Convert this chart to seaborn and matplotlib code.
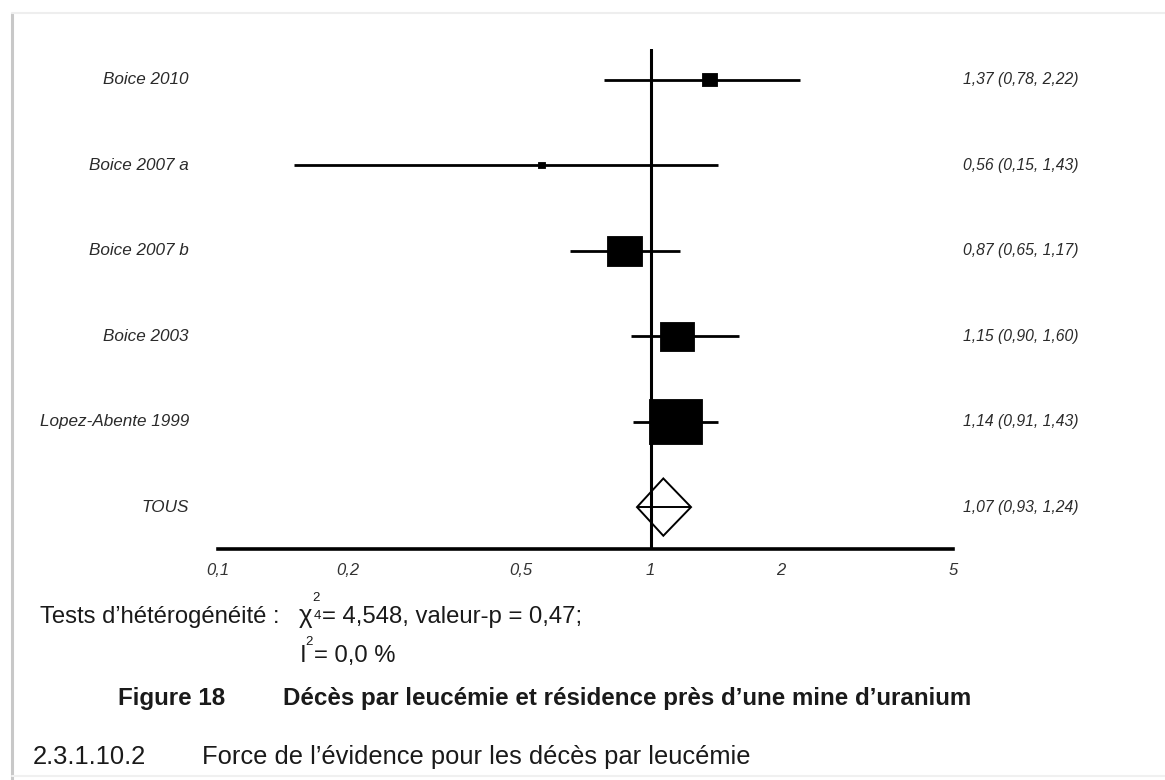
import numpy as np
import pandas as pd
import matplotlib
matplotlib.use("Agg")
import matplotlib.pyplot as plt
import matplotlib.transforms as mtrans
from matplotlib.ticker import NullLocator
from matplotlib.lines import Line2D
import seaborn as sns

# ---------------- data ----------------
studies = ["Boice 2010", "Boice 2007 a", "Boice 2007 b", "Boice 2003", "Lopez-Abente 1999"]
rr = [1.37, 0.56, 0.87, 1.15, 1.14]
ci_low = [0.78, 0.15, 0.65, 0.90, 0.91]
ci_high = [2.22, 1.43, 1.17, 1.60, 1.43]
weights = [4.1, 0.8, 22.5, 21.2, 51.7]          # relative study weights (%)
pooled_label = "TOUS"
pooled_rr = 1.07
pooled_low = 0.93
pooled_high = 1.24
x_ticks = [0.1, 0.2, 0.5, 1, 2, 5]
x_tick_labels = ["0,1", "0,2", "0,5", "1", "2", "5"]

# ---------------- style ----------------
sns.set_style("white")
plt.rcParams["font.family"] = ["Liberation Sans", "DejaVu Sans"]

W, H = 1165, 780
fig = plt.figure(figsize=(W / 100, H / 100), dpi=100)
fig.patch.set_facecolor("white")

def fx(px):
    return px / W

def fy(py):
    return 1 - py / H

ax = fig.add_axes([fx(218), fy(549), 735 / W, 500 / H])

df = pd.DataFrame({"study": studies, "rr": rr, "lo": ci_low, "hi": ci_high,
                   "w": weights, "row": np.arange(len(studies))})
pooled_row = len(studies)

# reference line at 1
ax.axvline(1, color="black", lw=2.2, zorder=1)

# confidence intervals
ax.hlines(df["row"], df["lo"], df["hi"], color="black", lw=2.0, zorder=2)

# weighted squares (area proportional to weight)
k = 28.2
rect = [(-0.585, -0.5), (0.585, -0.5), (0.585, 0.5), (-0.585, 0.5), (-0.585, -0.5)]
sns.scatterplot(data=df, x="rr", y="row", size="w",
                sizes=(k * min(weights), k * max(weights)),
                size_norm=(min(weights), max(weights)),
                marker=rect, color="black", edgecolor="black", linewidth=0.6,
                legend=False, ax=ax, zorder=3)

# pooled diamond
half_h = 0.335
ax.fill([pooled_low, pooled_rr, pooled_high, pooled_rr],
        [pooled_row, pooled_row - half_h, pooled_row, pooled_row + half_h],
        facecolor="none", edgecolor="black", lw=1.4, zorder=3)
ax.hlines(pooled_row, pooled_low, pooled_high, color="black", lw=1.4, zorder=3)

# axes
ax.set_xscale("log")
ax.set_xlim(0.1, 5)
ax.set_ylim(5.49, -0.357)
ax.set_xticks(x_ticks)
ax.set_xticklabels(x_tick_labels, fontstyle="italic", color="#333333")
ax.xaxis.set_minor_locator(NullLocator())
ax.set_yticks([])
ax.set_xlabel("")
ax.set_ylabel("")
for s in ["top", "right", "left"]:
    ax.spines[s].set_visible(False)
ax.spines["bottom"].set_linewidth(2.6)
ax.spines["bottom"].set_color("black")
ax.tick_params(axis="x", direction="out", length=7, width=2, pad=3,
               labelsize=12, color="black")
ax.set_facecolor("white")

# row labels
left_tr = mtrans.blended_transform_factory(fig.transFigure, ax.transData)
all_labels = studies + [pooled_label]
for i, name in enumerate(all_labels):
    ax.text(fx(189), i, name, transform=left_tr, ha="right", va="center",
            fontsize=12.3, fontstyle="italic", color="#2a2a2a")

def fmt(v):
    return f"{v:.2f}".replace(".", ",")

right_vals = list(zip(rr, ci_low, ci_high)) + [(pooled_rr, pooled_low, pooled_high)]
for i, (r, l, h) in enumerate(right_vals):
    ax.text(fx(963), i, f"{fmt(r)} ({fmt(l)}, {fmt(h)})", transform=left_tr,
            ha="left", va="center", fontsize=11.3, fontstyle="italic", color="#2a2a2a")

# ---------------- text below chart ----------------
tc = "#1a1a1a"
fig.text(fx(40), fy(623), "Tests d’hétérogénéité :", fontsize=17.2, color=tc, va="baseline")
fig.text(fx(299), fy(623), "χ", fontsize=18.5, color=tc, va="baseline")
fig.text(fx(312), fy(601), "2", fontsize=9.5, color=tc, va="baseline")
fig.text(fx(314), fy(619), "4", fontsize=9.5, color=tc, va="baseline")
fig.text(fx(322), fy(623), "= 4,548, valeur-p = 0,47;", fontsize=17.2, color=tc, va="baseline")
fig.text(fx(300), fy(662), "I", fontsize=17.2, color=tc, va="baseline")
fig.text(fx(305), fy(645), "2", fontsize=9.5, color=tc, va="baseline")
fig.text(fx(314), fy(662), "= 0,0 %", fontsize=17.2, color=tc, va="baseline")

fig.text(fx(118), fy(705), "Figure 18", fontsize=17.4, fontweight="bold", color=tc, va="baseline")
fig.text(fx(283), fy(705), "Décès par leucémie et résidence près d’une mine d’uranium",
         fontsize=17.4, fontweight="bold", color=tc, va="baseline")

fig.text(fx(33), fy(764), "2.3.1.10.2", fontsize=18.4, color=tc, va="baseline")
fig.text(fx(202), fy(764), "Force de l’évidence pour les décès par leucémie",
         fontsize=18.4, color=tc, va="baseline")

# page frame (shadowed edges of the scanned page)
fig.add_artist(Line2D([fx(12), fx(12)], [fy(14), fy(780)], color="#c8c8c8", lw=2.2,
                      transform=fig.transFigure))
fig.add_artist(Line2D([fx(12), fx(1165)], [fy(13), fy(13)], color="#eeeeee", lw=1.5,
                      transform=fig.transFigure))
fig.add_artist(Line2D([fx(12), fx(1165)], [fy(776), fy(776)], color="#f0f0f0", lw=1.5,
                      transform=fig.transFigure))

fig.savefig("out.png", dpi=100, facecolor="white")
